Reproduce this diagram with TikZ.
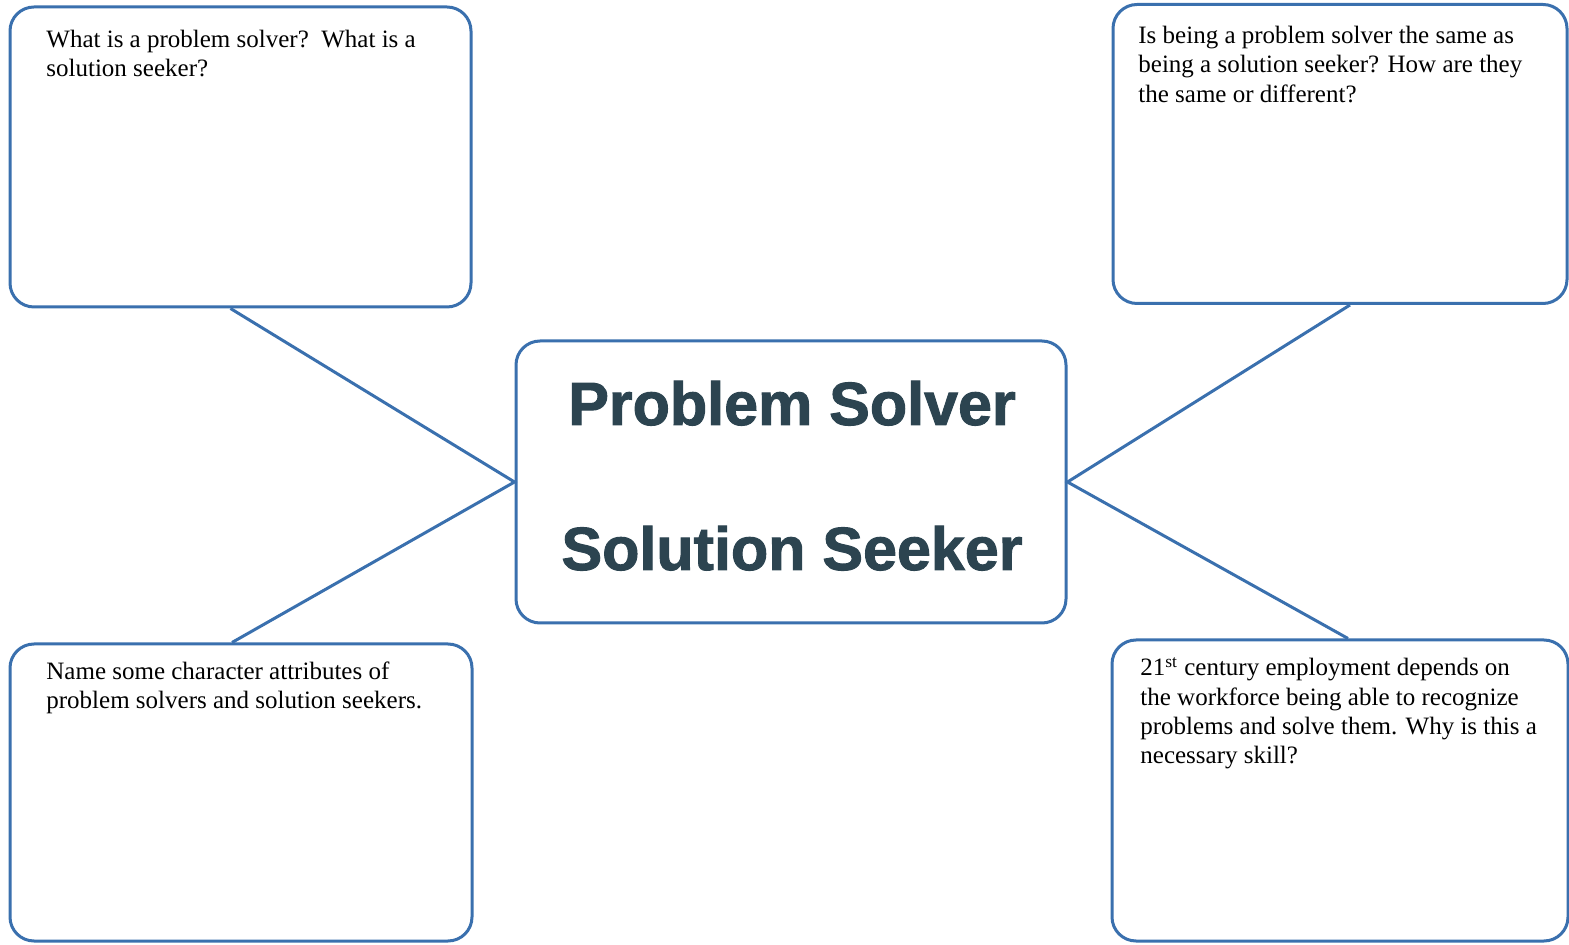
\documentclass[tikz,border=0pt]{standalone}
\usepackage{fontspec}
\setmainfont{Liberation Serif}
\newfontfamily\titlefont[BoldFeatures={FakeBold=1.6}]{Liberation Sans}
\usetikzlibrary{calc}
\definecolor{boxblue}{HTML}{3A70AE}
\definecolor{titlecol}{HTML}{2C4450}
\begin{document}
\begin{tikzpicture}[x=0.5pt,y=-0.5pt,
  qbox/.style={draw=boxblue, line width=1.5pt, rounded corners=12pt, fill=white, inner sep=0pt},
  link/.style={draw=boxblue, line width=1.5pt},
  qtext/.style={anchor=north west, inner sep=0pt, align=left, font=\fontsize{12.5pt}{14.6pt}\selectfont},
  title/.style={anchor=base, inner sep=0pt, text=titlecol, font=\titlefont\bfseries\fontsize{30.5pt}{36pt}\selectfont}]
\useasboundingbox (0,0) rectangle (1569,945);
\node[qbox, minimum width=230.5pt, minimum height=150pt] (tl) at (240.5,157) {};
\node[qbox, minimum width=227pt, minimum height=149.5pt] (tr) at (1340,154) {};
\node[qbox, minimum width=275pt, minimum height=141pt] (c) at (791,482) {};
\node[qbox, minimum width=231pt, minimum height=148.5pt] (bl) at (241,792.5) {};
\node[qbox, minimum width=228pt, minimum height=150.5pt] (br) at (1340,790.5) {};
\draw[link] ([xshift=-5pt]tl.south) -- (c.west) -- ([xshift=-4.5pt]bl.north);
\draw[link] ([xshift=5pt]tr.south) -- (c.east) -- ([xshift=4pt]br.north);
\node[qtext] (ttl) at (46,30) {What is a problem solver?\ \ What is a\\solution seeker?};
\node[qtext] (ttr) at (1138,26) {Is being a problem solver the same as\\being a solution seeker? How are they\\the same or different?};
\node[qtext] (tbl) at (46,661) {Name some character attributes of\\problem solvers and solution seekers.};
\node[qtext] (tbr) at (1140,657) {21\textsuperscript{st} century employment depends on\\the workforce being able to recognize\\problems and solve them. Why is this a\\necessary skill?};
\node[title] (t1) at (792,425) {Problem Solver};
\node[title] (t2) at (792,570) {Solution Seeker};
\end{tikzpicture}
\end{document}
